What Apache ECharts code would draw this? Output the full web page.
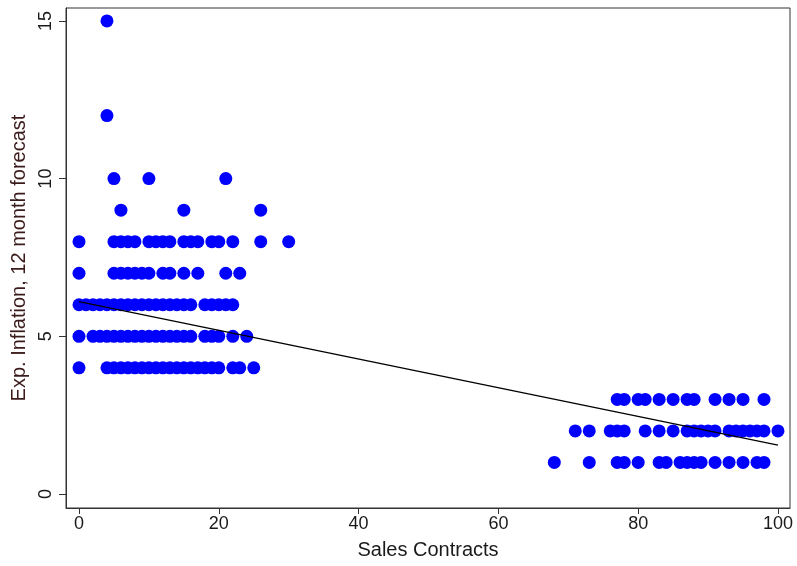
<!DOCTYPE html>
<html>
<head>
<meta charset="utf-8">
<title>Exp. Inflation vs Sales Contracts</title>
<script src="https://cdn.jsdelivr.net/npm/echarts@6/dist/echarts.min.js"></script>
<style>
    html, body { margin: 0; padding: 0; background: #fff; }
    #main { width: 797px; height: 566px; }
</style>
</head>
<body>
<div id="main"></div>
<script>
// sales contracts observed at each level of expected inflation
const level15 = [4]
const level12 = [4]
const level10 = [5, 10, 21]
const level9 = [6, 15, 26]
const level8 = [0, 5, 6, 7, 8, 10, 11, 12, 13, 15, 16, 17, 19, 20, 22, 26, 30]
const level7 = [0, 5, 6, 7, 8, 9, 10, 12, 13, 15, 17, 21, 23]
const level6 = [0, 1, 2, 3, 4, 5, 6, 7, 8, 9, 10, 11, 12, 13, 14, 15, 16, 18, 19, 20, 21, 22]
const level5 = [0, 2, 3, 4, 5, 6, 7, 8, 9, 10, 11, 12, 13, 14, 15, 16, 18, 19, 20, 22, 24]
const level4 = [0, 4, 5, 6, 7, 8, 9, 10, 11, 12, 13, 14, 15, 16, 17, 18, 19, 20, 22, 23, 25]
const level3 = [77, 78, 80, 81, 83, 85, 87, 88, 91, 93, 95, 98]
const level2 = [71, 73, 76, 77, 78, 81, 83, 85, 87, 88, 89, 90, 91, 93, 94, 95, 96, 97, 98, 100]
const level1 = [68, 73, 77, 78, 80, 83, 84, 86, 87, 88, 89, 91, 93, 95, 97, 98]

const levels = [15, 12, 10, 9, 8, 7, 6, 5, 4, 3, 2, 1]
const rows = [level15, level12, level10, level9, level8, level7, level6, level5, level4, level3, level2, level1]

// fitted line
const fitIntercept = 6.1
const fitSlope = -0.0455
const fitRange = [0, 100]

const xTicks = [0, 20, 40, 60, 80, 100]
const yTicks = [0, 5, 10, 15]

let points = []
rows.forEach(function (row, i) {
    row.forEach(function (x) {
        points.push([x, levels[i]])
    })
})
let fitLine = fitRange.map(function (x) {
    return [x, fitIntercept + fitSlope * x]
})

let myChart = echarts.init(document.getElementById('main'))
let textColor = '#1a1a1a'
let font = 'Liberation Sans, Arial, sans-serif'
let option = {
    animation: false,
    grid: {
        left: 66,
        right: 7,
        top: 8,
        bottom: 58,
        show: true,
        borderColor: '#333',
        borderWidth: 1
    },
    xAxis: {
        type: 'value',
        min: -1.86,
        max: 101.72,
        name: 'Sales Contracts',
        nameLocation: 'middle',
        nameGap: 32,
        nameTextStyle: { color: textColor, fontSize: 20, fontFamily: font },
        axisLine: { show: true, onZero: false, lineStyle: { color: '#333' } },
        axisTick: { show: true, length: 6, customValues: xTicks, lineStyle: { color: '#333' } },
        axisLabel: { customValues: xTicks, margin: 7, color: textColor, fontSize: 18, fontFamily: font },
        splitLine: { show: false }
    },
    yAxis: {
        type: 'value',
        min: -0.444,
        max: 15.41,
        name: 'Exp. Inflation, 12 month forecast',
        nameLocation: 'middle',
        nameGap: 33,
        nameRotate: 90,
        nameTextStyle: { color: '#3a1a1a', fontSize: 20, fontFamily: font },
        axisLine: { show: true, onZero: false, lineStyle: { color: '#333' } },
        axisTick: { show: true, length: 7, customValues: yTicks, lineStyle: { color: '#333' } },
        axisLabel: { customValues: yTicks, rotate: 90, margin: 11, color: textColor, fontSize: 18, fontFamily: font },
        splitLine: { show: false }
    },
    series: [
        {
            type: 'scatter',
            data: points,
            symbolSize: 13,
            itemStyle: { color: '#0000ff', opacity: 1 }
        },
        {
            type: 'line',
            data: fitLine,
            symbol: 'none',
            lineStyle: { color: '#000', width: 1.5 },
            z: 3
        }
    ]
}
myChart.setOption(option)
</script>
</body>
</html>
